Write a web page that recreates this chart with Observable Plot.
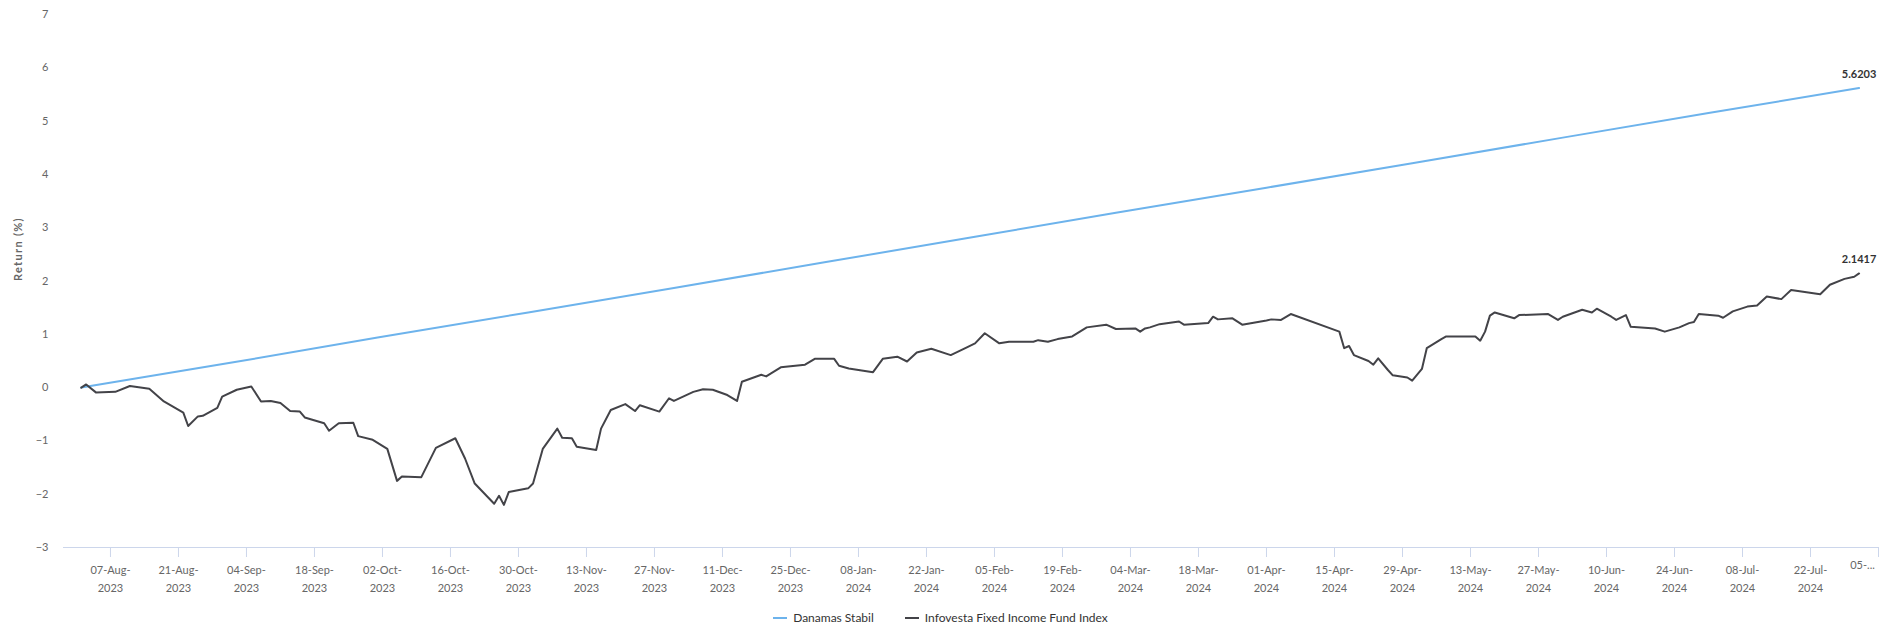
<!DOCTYPE html>
<html>
<head>
<meta charset="utf-8">
<script src="https://cdn.jsdelivr.net/npm/d3@7"></script>
<script src="https://cdn.jsdelivr.net/npm/@observablehq/plot@0.6"></script>
<style>
  body { margin: 0; background: #fff; font-family: Lato, "Open Sans", sans-serif; }
  #legend { height: 35px; display: flex; justify-content: center; align-items: center; font-size: 12px; color: #333; gap: 31px; }
  .item { display: flex; align-items: center; }
  .sw { display: inline-block; width: 14px; height: 2px; margin-right: 6px; }
  .ytitle text { letter-spacing: 1.3px; }
</style>
</head>
<body>
<div id="chart"></div>
<div id="legend"></div>
<script>
// ---- Data ----
const seriesNames = ["Danamas Stabil", "Infovesta Fixed Income Fund Index"];
const seriesColors = ["#6db3ec", "#434348"];

const stabilDates = ["2023-08-01","2023-09-01","2023-10-01","2023-11-01","2023-12-01","2024-01-01","2024-02-01","2024-03-01","2024-04-01","2024-05-01","2024-06-01","2024-07-01","2024-08-01"];
const stabilValues = [0, 0.47, 0.94, 1.41, 1.87, 2.35, 2.83, 3.28, 3.75, 4.21, 4.69, 5.15, 5.6203];

const indexDates = ["2023-08-01","2023-08-02","2023-08-04","2023-08-08","2023-08-11","2023-08-15","2023-08-18","2023-08-22","2023-08-23","2023-08-25","2023-08-26","2023-08-29","2023-08-30","2023-09-02","2023-09-05","2023-09-07","2023-09-09","2023-09-11","2023-09-13","2023-09-15","2023-09-16","2023-09-20","2023-09-21","2023-09-23","2023-09-26","2023-09-27","2023-09-30","2023-10-03","2023-10-05","2023-10-06","2023-10-10","2023-10-13","2023-10-17","2023-10-19","2023-10-21","2023-10-25","2023-10-26","2023-10-27","2023-10-28","2023-11-01","2023-11-02","2023-11-04","2023-11-07","2023-11-08","2023-11-10","2023-11-11","2023-11-15","2023-11-16","2023-11-18","2023-11-21","2023-11-23","2023-11-24","2023-11-28","2023-11-30","2023-12-01","2023-12-05","2023-12-07","2023-12-09","2023-12-12","2023-12-14","2023-12-15","2023-12-19","2023-12-20","2023-12-23","2023-12-28","2023-12-30","2024-01-03","2024-01-04","2024-01-06","2024-01-11","2024-01-13","2024-01-16","2024-01-18","2024-01-20","2024-01-23","2024-01-27","2024-01-30","2024-02-01","2024-02-03","2024-02-06","2024-02-08","2024-02-13","2024-02-14","2024-02-16","2024-02-18","2024-02-21","2024-02-24","2024-02-28","2024-03-01","2024-03-05","2024-03-06","2024-03-07","2024-03-08","2024-03-10","2024-03-14","2024-03-15","2024-03-20","2024-03-21","2024-03-22","2024-03-25","2024-03-27","2024-04-01","2024-04-02","2024-04-04","2024-04-06","2024-04-16","2024-04-17","2024-04-18","2024-04-19","2024-04-22","2024-04-23","2024-04-24","2024-04-26","2024-04-27","2024-04-30","2024-05-01","2024-05-03","2024-05-04","2024-05-07","2024-05-08","2024-05-14","2024-05-15","2024-05-16","2024-05-17","2024-05-18","2024-05-22","2024-05-23","2024-05-29","2024-05-31","2024-06-01","2024-06-05","2024-06-07","2024-06-08","2024-06-11","2024-06-12","2024-06-14","2024-06-15","2024-06-20","2024-06-22","2024-06-25","2024-06-27","2024-06-28","2024-06-29","2024-07-03","2024-07-04","2024-07-06","2024-07-09","2024-07-11","2024-07-13","2024-07-16","2024-07-18","2024-07-24","2024-07-26","2024-07-29","2024-07-31","2024-08-01"];
const indexValues = [0.00,0.06,-0.09,-0.08,0.03,-0.02,-0.26,-0.47,-0.72,-0.54,-0.53,-0.38,-0.17,-0.04,0.02,-0.26,-0.25,-0.29,-0.44,-0.45,-0.56,-0.67,-0.81,-0.67,-0.66,-0.91,-0.98,-1.15,-1.75,-1.67,-1.68,-1.13,-0.95,-1.33,-1.80,-2.18,-2.03,-2.20,-1.96,-1.89,-1.80,-1.15,-0.77,-0.94,-0.95,-1.11,-1.17,-0.77,-0.42,-0.31,-0.44,-0.33,-0.45,-0.20,-0.25,-0.08,-0.03,-0.04,-0.14,-0.25,0.11,0.24,0.21,0.38,0.43,0.54,0.54,0.41,0.36,0.29,0.54,0.58,0.49,0.66,0.73,0.61,0.74,0.83,1.02,0.83,0.86,0.86,0.89,0.86,0.91,0.96,1.13,1.18,1.10,1.11,1.05,1.11,1.13,1.19,1.24,1.18,1.21,1.33,1.28,1.30,1.18,1.26,1.28,1.27,1.38,1.05,0.74,0.78,0.61,0.50,0.43,0.55,0.33,0.23,0.19,0.13,0.35,0.74,0.91,0.96,0.96,0.88,1.05,1.35,1.41,1.30,1.36,1.38,1.27,1.33,1.46,1.41,1.48,1.33,1.27,1.36,1.14,1.11,1.05,1.13,1.21,1.23,1.38,1.35,1.31,1.43,1.52,1.54,1.71,1.66,1.83,1.75,1.93,2.04,2.08,2.1417];

const tickDates = ["2023-08-07","2023-08-21","2023-09-04","2023-09-18","2023-10-02","2023-10-16","2023-10-30","2023-11-13","2023-11-27","2023-12-11","2023-12-25","2024-01-08","2024-01-22","2024-02-05","2024-02-19","2024-03-04","2024-03-18","2024-04-01","2024-04-15","2024-04-29","2024-05-13","2024-05-27","2024-06-10","2024-06-24","2024-07-08","2024-07-22","2024-08-05"];
const tickLabels = ["07-Aug-\n2023","21-Aug-\n2023","04-Sep-\n2023","18-Sep-\n2023","02-Oct-\n2023","16-Oct-\n2023","30-Oct-\n2023","13-Nov-\n2023","27-Nov-\n2023","11-Dec-\n2023","25-Dec-\n2023","08-Jan-\n2024","22-Jan-\n2024","05-Feb-\n2024","19-Feb-\n2024","04-Mar-\n2024","18-Mar-\n2024","01-Apr-\n2024","15-Apr-\n2024","29-Apr-\n2024","13-May-\n2024","27-May-\n2024","10-Jun-\n2024","24-Jun-\n2024","08-Jul-\n2024","22-Jul-\n2024","05-..."];
const yTicks = [-3,-2,-1,0,1,2,3,4,5,6,7];
const yTitle = "Return (%)";

// ---- Build ----
const parse = d3.utcParse("%Y-%m-%d");
const stabil = stabilDates.map((d, i) => ({date: parse(d), value: stabilValues[i], series: seriesNames[0]}));
const index = indexDates.map((d, i) => ({date: parse(d), value: indexValues[i], series: seriesNames[1]}));
const ticks = tickDates.map(parse);
const labelOf = new Map(ticks.map((t, i) => [+t, tickLabels[i]]));
const lastPoints = [stabil[stabil.length - 1], index[index.length - 1]];

const font = "Lato, 'Open Sans', sans-serif";

const chart = Plot.plot({
  width: 1881,
  height: 600,
  marginLeft: 63,
  marginRight: 3,
  marginTop: 14,
  marginBottom: 53,
  style: {fontFamily: font, background: "#fff"},
  x: {type: "utc", domain: [new Date("2023-07-28T08:00:00Z"), parse("2024-08-05")]},
  y: {domain: [-3, 7]},
  marks: [
    Plot.axisY({ticks: yTicks, tickSize: 0, tickPadding: 15, fontSize: 11, fill: "#666", label: null}),
    Plot.text([yTitle], {frameAnchor: "left", rotate: -90, dx: -45, fontSize: 11, fontWeight: "bold", fill: "#666", className: "ytitle"}),
    Plot.ruleY([-3], {stroke: "#ccd6eb"}),
    Plot.axisX({ticks: ticks, tickFormat: (d) => (+d === +ticks[ticks.length - 1] ? "" : labelOf.get(+d)), tickSize: 10, tickPadding: 4, stroke: "#ccd6eb", strokeOpacity: 1, fill: "#666", fontSize: 11, lineHeight: 1.6, label: null}),
    Plot.axisX({ticks: [ticks[ticks.length - 1]], tickFormat: (d) => labelOf.get(+d), tickSize: 0, tickPadding: 14, dx: -16, fill: "#666", fontSize: 11, label: null}),
    Plot.line(stabil, {x: "date", y: "value", stroke: seriesColors[0], strokeWidth: 2}),
    Plot.line(index, {x: "date", y: "value", stroke: seriesColors[1], strokeWidth: 2}),
    Plot.text(lastPoints, {x: "date", y: "value", text: (d) => d.value.toFixed(4), dy: -14, fontSize: 11, fontWeight: "bold", fill: "#333", stroke: "white", strokeWidth: 3, paintOrder: "stroke"})
  ]
});
document.getElementById("chart").appendChild(chart);

const legend = document.getElementById("legend");
seriesNames.forEach((name, i) => {
  const item = document.createElement("div");
  item.className = "item";
  const sw = document.createElement("span");
  sw.className = "sw";
  sw.style.background = seriesColors[i];
  const t = document.createElement("span");
  t.textContent = name;
  item.appendChild(sw);
  item.appendChild(t);
  legend.appendChild(item);
});
</script>
</body>
</html>
